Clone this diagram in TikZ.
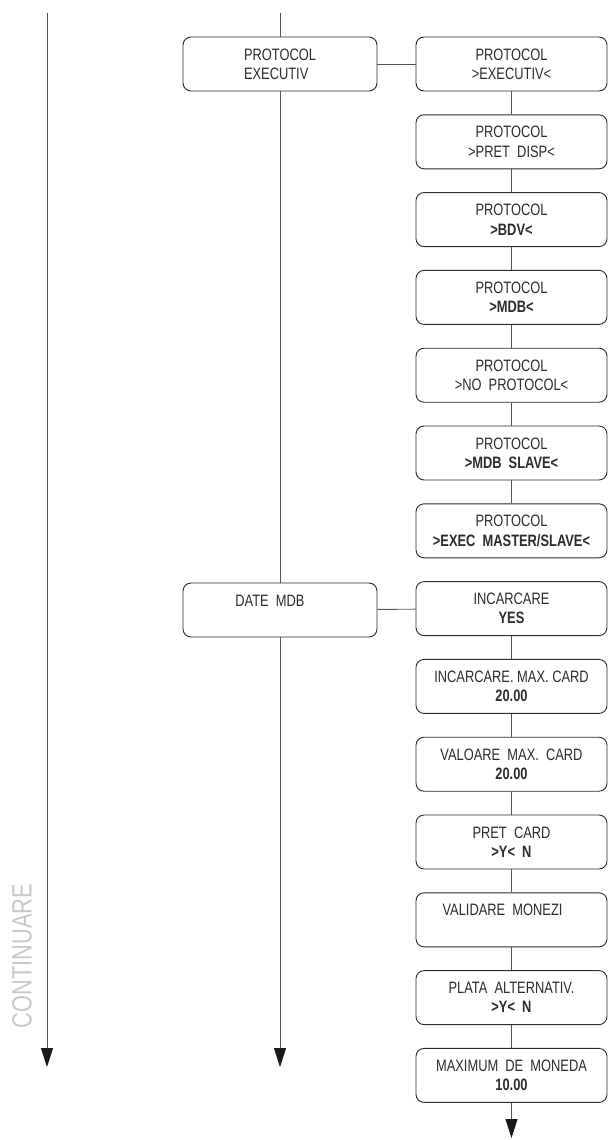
\documentclass[tikz,border=0pt]{standalone}
\usepackage{fontspec}
\setmainfont[FakeStretch=0.78]{Liberation Sans}
\usepackage{tikz}
\usetikzlibrary{arrows.meta}
\definecolor{boxgray}{HTML}{2A2A2A}
\definecolor{linegray}{HTML}{555555}
\definecolor{textgray}{HTML}{2C2C2C}
\definecolor{fadegray}{HTML}{C8C8C8}
\newcommand{\menufont}{\fontsize{16.5}{19.3}\selectfont}
\newcommand{\menux}{511.5}
\newcommand{\menupitch}{77.8}
\tikzset{
  menubox/.style={draw=boxgray, line width=0.9pt, rounded corners=8pt,
    minimum width=191pt, minimum height=54pt, inner sep=0pt,
    align=center, text=textgray, font=\menufont},
  groupbox/.style={menubox, minimum width=194pt},
  link/.style={draw=linegray, line width=0.9pt},
  flow/.style={link, -{Triangle[width=12pt,length=19pt,color=black!90]}}
}

\begin{document}
\begin{tikzpicture}[x=1pt, y=-1pt]
  \useasboundingbox (0, 0) rectangle (608, 1140);

  \coordinate (L0) at (47, 13);
  \coordinate (L1) at (47, 1067);
  \coordinate (M0) at (280, 13);
  \coordinate (M1) at (280, 1067);

  \node [groupbox, align=left] (pe) at (280, 64) {PROTOCOL\\EXECUTIV};
  \node [groupbox] (dm) at (280, 610) {DATE~~MDB\hspace*{20pt}\\\mbox{}};

  \node [menubox] (p1) at (\menux, 64) {PROTOCOL\\>EXECUTIV<};
  \node [menubox] (p2) at (\menux, 64 + 1*\menupitch) {PROTOCOL\\>PRET~~DISP<};
  \node [menubox] (p3) at (\menux, 64 + 2*\menupitch) {PROTOCOL\\\textbf{>BDV<}};
  \node [menubox] (p4) at (\menux, 64 + 3*\menupitch) {PROTOCOL\\\textbf{>MDB<}};
  \node [menubox] (p5) at (\menux, 64 + 4*\menupitch) {PROTOCOL\\>NO~~PROTOCOL<};
  \node [menubox] (p6) at (\menux, 64 + 5*\menupitch) {PROTOCOL\\\textbf{>MDB~~SLAVE<}};
  \node [menubox] (p7) at (\menux, 64 + 6*\menupitch) {PROTOCOL\\\textbf{>EXEC~~MASTER/SLAVE<}};

  \node [menubox] (d1) at (\menux, 64 + 7*\menupitch) {INCARCARE\\\textbf{YES}};
  \node [menubox] (d2) at (\menux, 64 + 8*\menupitch) {INCARCARE.~MAX.~CARD\\\textbf{20.00}};
  \node [menubox] (d3) at (\menux, 64 + 9*\menupitch) {VALOARE~~MAX.~~CARD\\\textbf{20.00}};
  \node [menubox] (d4) at (\menux, 64 + 10*\menupitch) {PRET~~CARD\\\textbf{>Y<~~N}};
  \node [menubox] (d5) at (\menux, 64 + 11*\menupitch) {VALIDARE~~MONEZI\hspace*{18pt}\\\mbox{}};
  \node [menubox] (d6) at (\menux, 64 + 12*\menupitch) {PLATA~~ALTERNATIV.\\\textbf{>Y<~~N}};
  \node [menubox] (d7) at (\menux, 64 + 13*\menupitch) {MAXIMUM~~DE~~MONEDA\\\textbf{10.00}};
  \coordinate (dend) at (\menux, 1138);

  % continuation on the left
  \draw [flow] (L0) -- (L1);
  \node [rotate=90, text=fadegray, font=\fontsize{28}{28}\selectfont] (cont) at (22, 956) {CONTINUARE};

  % main column
  \draw [link] (M0) -- (pe);
  \draw [link] (pe) -- (dm);
  \draw [flow] (dm) -- (M1);

  % protocol choices
  \draw [link] (pe) -- (p1);
  \draw [link] (p1) -- (p2) -- (p3) -- (p4) -- (p5) -- (p6) -- (p7);

  % mdb data
  \draw [link] (dm) -- (d1);
  \draw [link] (d1) -- (d2) -- (d3) -- (d4) -- (d5) -- (d6) -- (d7);
  \draw [flow] (d7) -- (dend);
\end{tikzpicture}
\end{document}
